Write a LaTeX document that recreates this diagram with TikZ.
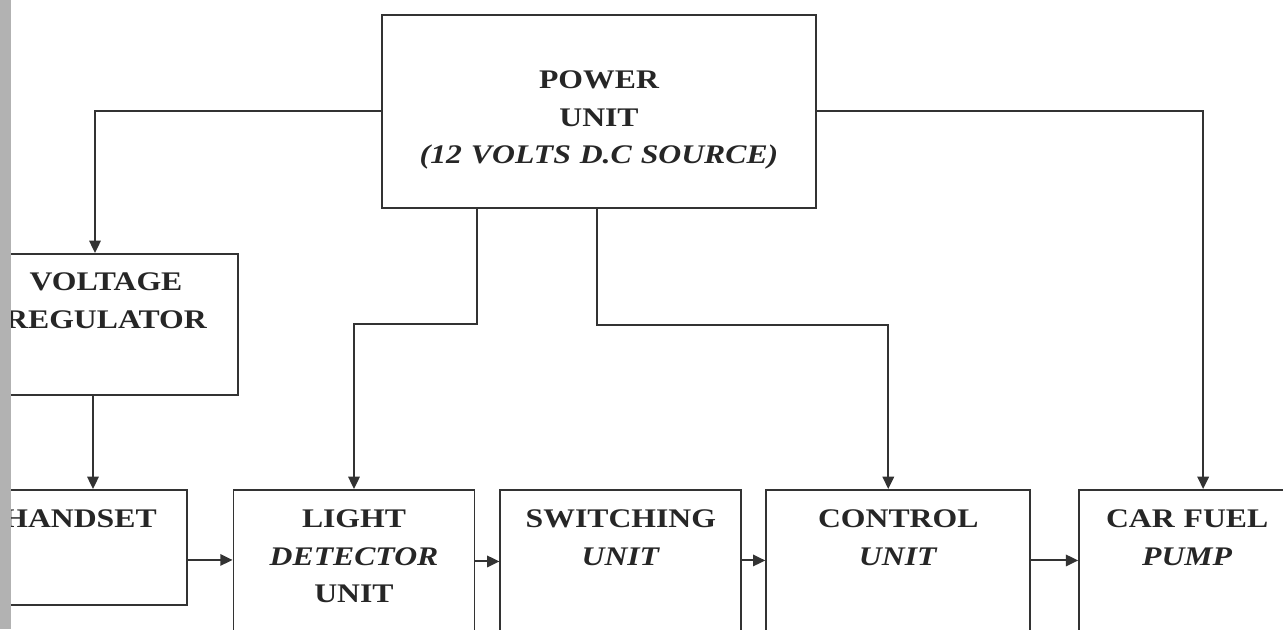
\documentclass[tikz,border=0pt]{standalone}
\usepackage{fontspec}
\setmainfont{Liberation Serif}[FakeStretch=1.18]
\usetikzlibrary{arrows.meta,positioning}

\begin{document}
\begin{tikzpicture}[x=0.02cm, y=-0.02cm,
    blk/.style={draw=black!80, line width=1.1pt, inner sep=0pt, align=center,
      font=\fontsize{15.3}{21.3}\selectfont\bfseries, text=black!85},
    arr/.style={draw=black!80, line width=1.1pt, -{Triangle[length=7pt,width=6.5pt]}}]
  \useasboundingbox (0,0) rectangle (1283,629);
  \clip (0,0) rectangle (1283,629);

  \node (pwr) [blk, anchor=north, text width=8.68cm, text height=1.48cm, text depth=2.38cm] at (599,14)
    {POWER\\UNIT\\\textit{(12 VOLTS D.C SOURCE)}};
  \node (reg) [blk, anchor=north, text width=5.28cm, text height=0.74cm, text depth=2.08cm] at (106,253)
    {VOLTAGE\\REGULATOR};
  \node (hs) [blk, anchor=north, text width=4.28cm, text height=0.76cm, text depth=1.54cm] at (80,489)
    {HANDSET};
  \node (ld) [blk, anchor=north, text width=4.82cm, text height=0.76cm, text depth=2.5cm] at (354,489)
    {LIGHT\\\textit{DETECTOR}\\UNIT};
  \node (sw) [blk, text width=4.82cm, text height=0.76cm, text depth=2.5cm, right=0.48cm of ld]
    {SWITCHING\\\textit{UNIT}};
  \node (ct) [blk, text width=5.28cm, text height=0.76cm, text depth=2.5cm, right=0.46cm of sw]
    {CONTROL\\\textit{UNIT}};
  \node (pump) [blk, text width=4.32cm, text height=0.76cm, text depth=2.5cm, right=0.94cm of ct]
    {CAR FUEL\\\textit{PUMP}};

  % scanner edge
  \fill[gray!60] (0,0) rectangle (11,629);

  \draw [arr] (pwr.west) -| ([xshift=-0.22cm]reg.north);
  \draw [arr] (pwr.east) -| ([xshift=0.32cm]pump.north);
  \draw [arr] ([xshift=-2.44cm]pwr.south) -- ++(0,115) -| (ld.north);
  \draw [arr] ([xshift=-0.04cm]pwr.south) -- ++(0,116) -| ([xshift=-0.2cm]ct.north);
  \draw [arr] ([xshift=-0.26cm]reg.south) -- ([xshift=0.26cm]hs.north);
  \draw [arr] ([yshift=-0.25cm]hs.east) -- ([yshift=-0.25cm]hs.east -| ld.west);
  \draw [arr] ([yshift=0.2cm]ld.east) -- ([yshift=0.2cm]sw.west);
  \draw [arr] ([yshift=0.22cm]sw.east) -- ([yshift=0.22cm]ct.west);
  \draw [arr] ([yshift=0.22cm]ct.east) -- ([yshift=0.22cm]pump.west);
\end{tikzpicture}
\end{document}
